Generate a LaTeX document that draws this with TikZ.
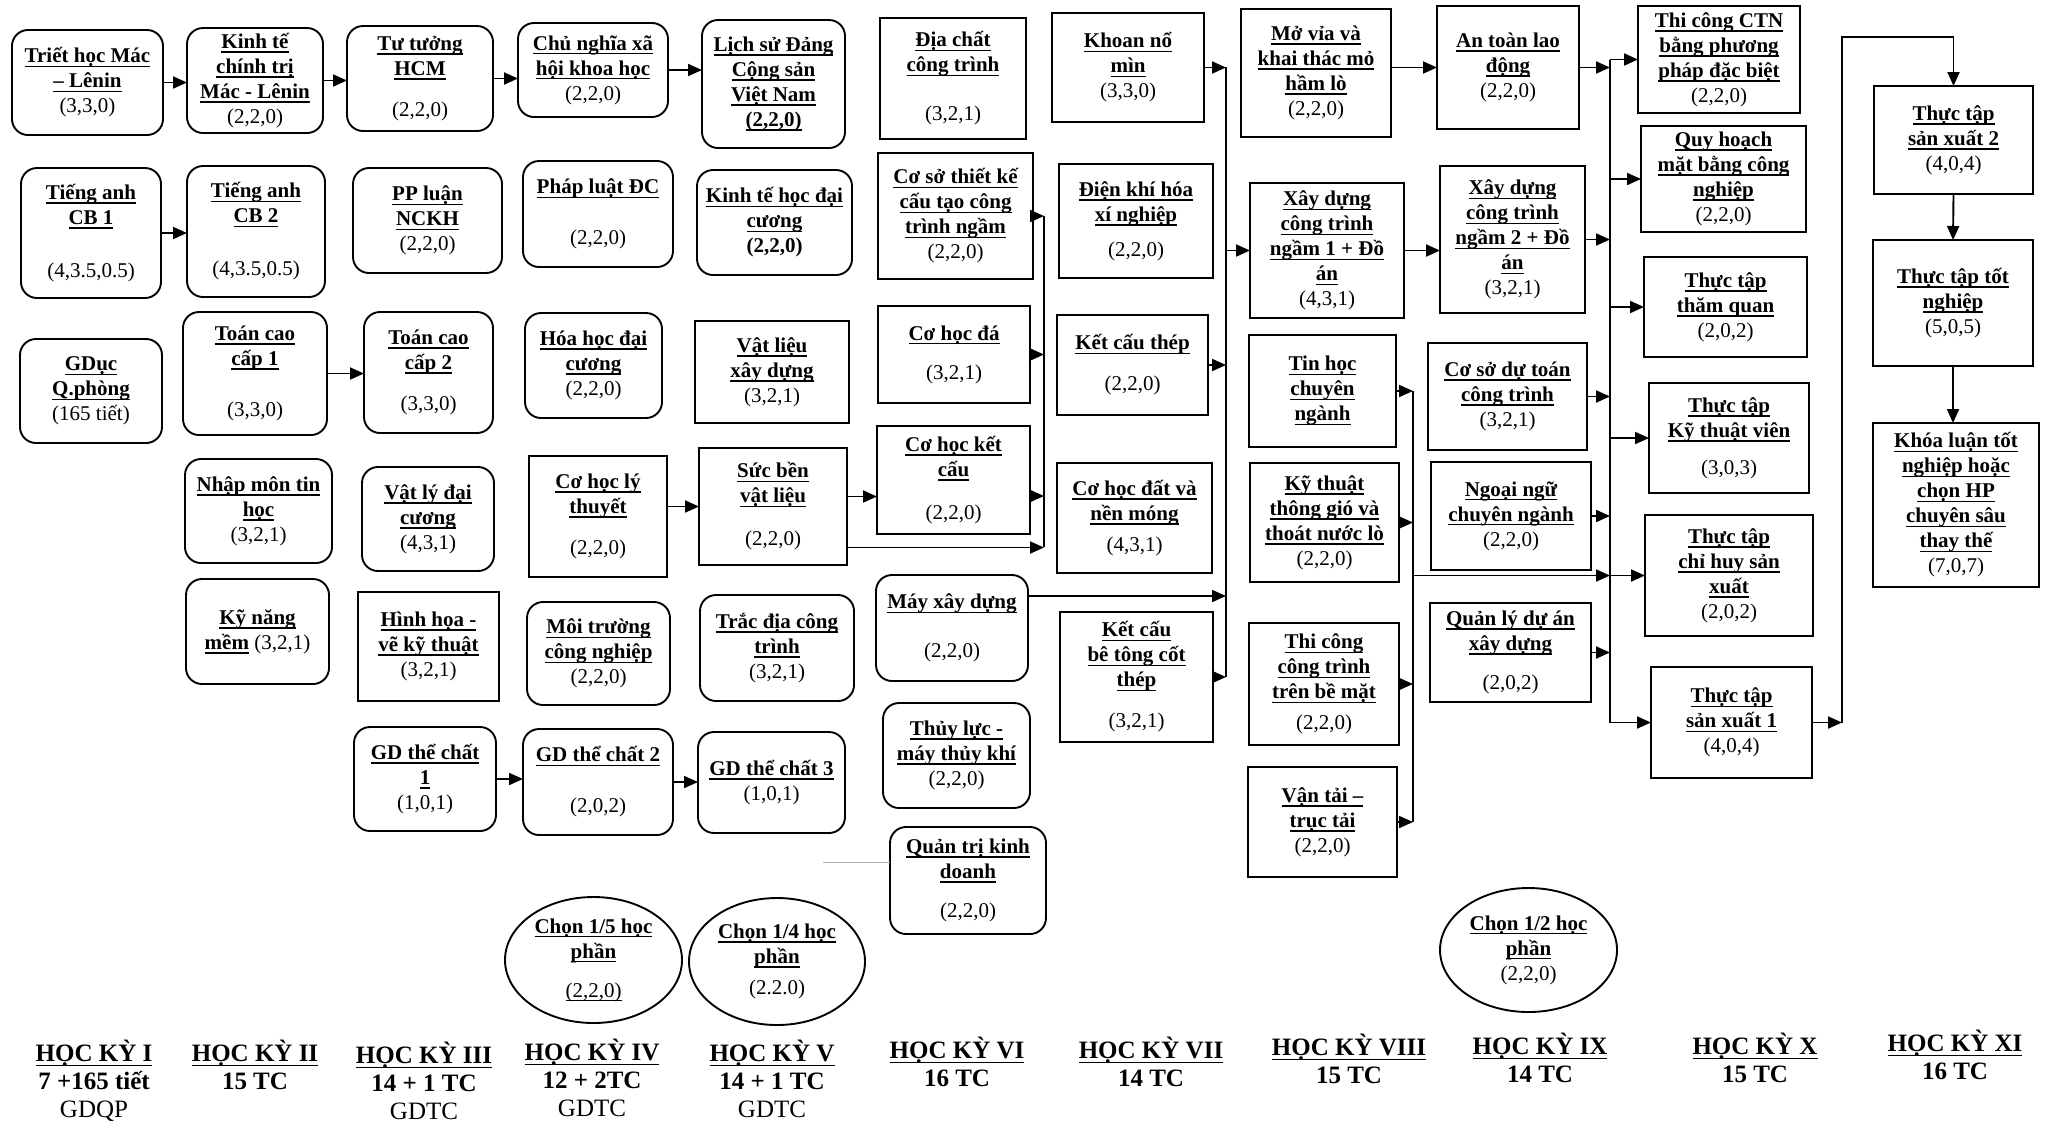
\documentclass[tikz,border=0pt]{standalone}
\usepackage{fontspec}
\setmainfont{Liberation Serif}
\usetikzlibrary{arrows.meta,shapes.geometric}
\newcommand\myul[1]{\leavevmode\setbox0\hbox{#1}\rlap{\rule[-2.2pt]{\wd0}{0.75pt}}\box0}
\newcommand\ttl[1]{\textbf{\myul{#1}}}
\newcommand\bxfont{\fontsize{10.5}{12.5}\selectfont}
\newcommand\semfont{\fontsize{12.5}{14}\selectfont}
\newcommand\bx[7]{%
  \pgfmathsetmacro\bxcx{(#3+#5)/2}%
  \pgfmathsetmacro\bxcy{(#4+#6)/2}%
  \pgfmathsetmacro\bxw{(#5-#3)/2}%
  \pgfmathsetmacro\bxh{(#6-#4)/2}%
  \node[#1, minimum width=\bxw pt, minimum height=\bxh pt] (#2) at (\bxcx,\bxcy) {#7};}
\tikzset{
  boxbase/.style={draw, line width=0.95pt, inner sep=1pt, outer sep=0pt, align=center, font=\bxfont},
  rb/.style={boxbase, rounded corners=8pt},
  sb/.style={boxbase},
  el/.style={boxbase, ellipse, inner sep=0pt},
  arr/.style={line width=0.95pt, -{Triangle[length=7pt,width=6pt]}},
  ln/.style={line width=0.95pt},
  sem/.style={anchor=north, align=center, font=\semfont, inner sep=0pt},
}
\begin{document}
\begin{tikzpicture}[x=0.5pt,y=-0.5pt]
\fill[white] (0,0) rectangle (2048,1126);
\useasboundingbox (0,0) rectangle (2048,1126);

% Column I
\bx{rb}{triet}{12}{30}{163}{135}{\ttl{Triết học Mác}\\\ttl{– Lênin}\\(3,3,0)}
\bx{rb}{tacb1}{21}{168}{161}{298}{\ttl{Tiếng anh}\\\ttl{CB 1}\\[14pt](4,3.5,0.5)}
\bx{rb}{gduc}{20}{339}{162}{443}{\ttl{GDục}\\\ttl{Q.phòng}\\(165 tiết)}
% Column II
\bx{rb}{kinhte}{187}{28}{323}{133}{\ttl{Kinh tế}\\\ttl{chính trị}\\\ttl{Mác - Lênin}\\(2,2,0)}
\bx{rb}{tacb2}{187}{166}{325}{297}{\ttl{Tiếng anh}\\\ttl{CB 2}\\[14pt](4,3.5,0.5)}
\bx{rb}{toan1}{183}{312}{327}{435}{\ttl{Toán cao}\\\ttl{cấp 1}\\[13pt](3,3,0)}
\bx{rb}{nhapmon}{185}{459}{332}{563}{\ttl{Nhập môn tin}\\\ttl{học}\\(3,2,1)}
\bx{rb}{kynang}{186}{579}{329}{684}{\ttl{Kỹ năng}\\\ttl{mềm} (3,2,1)}
% Column III
\bx{rb}{tutuong}{347}{26}{493}{131}{\ttl{Tư tưởng}\\\ttl{HCM}\\[8pt](2,2,0)}
\bx{rb}{ppl}{353}{168}{502}{273}{\ttl{PP luận}\\\ttl{NCKH}\\(2,2,0)}
\bx{rb}{toan2}{364}{312}{493}{433}{\ttl{Toán cao}\\\ttl{cấp 2}\\[8pt](3,3,0)}
\bx{rb}{vatly}{362}{467}{494}{571}{\ttl{Vật lý đại}\\\ttl{cương}\\(4,3,1)}
\bx{sb}{hinhhoa}{358}{592}{499}{701}{\ttl{Hình họa -}\\\ttl{vẽ kỹ thuật}\\(3,2,1)}
\bx{rb}{gd1}{354}{727}{496}{831}{\ttl{GD thể chất}\\\ttl{1}\\(1,0,1)}
% Column IV
\bx{rb}{cnxh}{518}{23}{668}{117}{\ttl{Chủ nghĩa xã}\\\ttl{hội khoa học}\\(2,2,0)}
\bx{rb}{phapluat}{523}{161}{673}{267}{\ttl{Pháp luật ĐC}\\[13pt](2,2,0)}
\bx{rb}{hoahoc}{525}{313}{662}{418}{\ttl{Hóa học đại}\\\ttl{cương}\\(2,2,0)}
\bx{sb}{chlt}{529}{456}{667}{577}{\ttl{Cơ học lý}\\\ttl{thuyết}\\[8pt](2,2,0)}
\bx{rb}{moitruong}{527}{602}{670}{705}{\ttl{Môi trường}\\\ttl{công nghiệp}\\(2,2,0)}
\bx{rb}{gd2}{523}{729}{673}{835}{\ttl{GD thể chất 2}\\[13pt](2,0,2)}
\bx{el}{chon15}{505}{897}{682}{1023}{\ttl{Chọn 1/5 học}\\\ttl{phần}\\[7pt]\myul{(2,2,0)}}
% Column V
\bx{rb}{lichsu}{702}{20}{845}{148}{\ttl{Lịch sử Đảng}\\\ttl{Cộng sản}\\\ttl{Việt Nam}\\\ttl{(2,2,0)}}
\bx{rb}{kthdc}{697}{170}{852}{275}{\ttl{Kinh tế học đại}\\\ttl{cương}\\\textbf{(2,2,0)}}
\bx{sb}{vatlieu}{695}{321}{849}{423}{\ttl{Vật liệu}\\\ttl{xây dựng}\\(3,2,1)}
\bx{sb}{sucben}{699}{448}{847}{565}{\ttl{Sức bền}\\\ttl{vật liệu}\\[9pt](2,2,0)}
\bx{rb}{tracdia}{700}{595}{854}{701}{\ttl{Trắc địa công}\\\ttl{trình}\\(3,2,1)}
\bx{rb}{gd3}{698}{732}{845}{833}{\ttl{GD thể chất 3}\\(1,0,1)}
\bx{el}{chon14}{689}{898}{865}{1025}{\ttl{Chọn 1/4 học}\\\ttl{phần}\\[3pt](2.2.0)}
% Column VI
\bx{sb}{diachat}{880}{18}{1026}{139}{\ttl{Địa chất}\\\ttl{công trình}\\[12pt](3,2,1)}
\bx{sb}{csotk}{878}{153}{1033}{279}{\ttl{Cơ sở thiết kế}\\\ttl{cấu tạo công}\\\ttl{trình ngầm}\\(2,2,0)}
\bx{sb}{cohocda}{878}{306}{1030}{403}{\ttl{Cơ học đá}\\[7pt](3,2,1)}
\bx{sb}{chkc}{877}{426}{1030}{534}{\ttl{Cơ học kết}\\\ttl{cấu}\\[9pt](2,2,0)}
\bx{rb}{mayxd}{876}{575}{1028}{681}{\ttl{Máy xây dựng}\\[12pt](2,2,0)}
\bx{rb}{thuyluc}{883}{703}{1030}{808}{\ttl{Thủy lực -}\\\ttl{máy thủy khí}\\(2,2,0)}
\bx{rb}{qtkd}{890}{827}{1046}{934}{\ttl{Quản trị kinh}\\\ttl{doanh}\\[7pt](2,2,0)}
% Column VII
\bx{sb}{khoan}{1052}{13}{1204}{122}{\ttl{Khoan nổ}\\\ttl{mìn}\\(3,3,0)}
\bx{sb}{dienkhi}{1059}{164}{1213}{278}{\ttl{Điện khí hóa}\\\ttl{xí nghiệp}\\[5pt](2,2,0)}
\bx{sb}{kct}{1057}{315}{1208}{415}{\ttl{Kết cấu thép}\\[8pt](2,2,0)}
\bx{sb}{chdat}{1057}{463}{1212}{573}{\ttl{Cơ học đất và}\\\ttl{nền móng}\\[3pt](4,3,1)}
\bx{sb}{btct}{1060}{612}{1213}{742}{\ttl{Kết cấu}\\\ttl{bê tông cốt}\\\ttl{thép}\\[8pt](3,2,1)}
% Column VIII
\bx{sb}{movia}{1241}{9}{1391}{137}{\ttl{Mở vỉa và}\\\ttl{khai thác mỏ}\\\ttl{hầm lò}\\(2,2,0)}
\bx{sb}{xd1}{1250}{183}{1404}{318}{\ttl{Xây dựng}\\\ttl{công trình}\\\ttl{ngầm 1 + Đồ}\\\ttl{án}\\(4,3,1)}
\bx{sb}{tinhoc}{1249}{335}{1396}{447}{\ttl{Tin học}\\\ttl{chuyên}\\\ttl{ngành}}
\bx{sb}{ktgio}{1250}{463}{1399}{582}{\ttl{Kỹ thuật}\\\ttl{thông gió và}\\\ttl{thoát nước lò}\\(2,2,0)}
\bx{sb}{tcbm}{1249}{623}{1399}{745}{\ttl{Thi công}\\\ttl{công trình}\\\ttl{trên bề mặt}\\[3pt](2,2,0)}
\bx{sb}{vantai}{1248}{767}{1397}{877}{\ttl{Vận tải –}\\\ttl{trục tải}\\(2,2,0)}
% Column IX
\bx{sb}{antoan}{1437}{6}{1579}{129}{\ttl{An toàn lao}\\\ttl{động}\\(2,2,0)}
\bx{sb}{xd2}{1440}{166}{1585}{313}{\ttl{Xây dựng}\\\ttl{công trình}\\\ttl{ngầm 2 + Đồ}\\\ttl{án}\\(3,2,1)}
\bx{sb}{csdt}{1428}{343}{1587}{450}{\ttl{Cơ sở dự toán}\\\ttl{công trình}\\(3,2,1)}
\bx{sb}{ngoaingu}{1431}{462}{1591}{570}{\ttl{Ngoại ngữ}\\\ttl{chuyên ngành}\\(2,2,0)}
\bx{sb}{qlda}{1430}{603}{1591}{702}{\ttl{Quản lý dự án}\\\ttl{xây dựng}\\[7pt](2,0,2)}
\bx{el}{chon12}{1440}{888}{1617}{1012}{\ttl{Chọn 1/2 học}\\\ttl{phần}\\(2,2,0)}
% Column X
\bx{sb}{tcctn}{1638}{6}{1800}{113}{\ttl{Thi công CTN}\\\ttl{bằng phương}\\\ttl{pháp đặc biệt}\\(2,2,0)}
\bx{sb}{quyhoach}{1641}{126}{1806}{232}{\ttl{Quy hoạch}\\\ttl{mặt bằng công}\\\ttl{nghiệp}\\(2,2,0)}
\bx{sb}{thamquan}{1644}{257}{1807}{357}{\ttl{Thực tập}\\\ttl{thăm quan}\\(2,0,2)}
\bx{sb}{ktv}{1649}{383}{1809}{493}{\ttl{Thực tập}\\\ttl{Kỹ thuật viên}\\[6pt](3,0,3)}
\bx{sb}{chihuy}{1645}{515}{1813}{636}{\ttl{Thực tập}\\\ttl{chỉ huy sản}\\\ttl{xuất}\\(2,0,2)}
\bx{sb}{sx1}{1651}{667}{1812}{778}{\ttl{Thực tập}\\\ttl{sản xuất 1}\\(4,0,4)}
% Column XI
\bx{sb}{sx2}{1874}{86}{2033}{194}{\ttl{Thực tập}\\\ttl{sản xuất 2}\\(4,0,4)}
\bx{sb}{tttn}{1873}{240}{2033}{366}{\ttl{Thực tập tốt}\\\ttl{nghiệp}\\(5,0,5)}
\bx{sb}{khoaluan}{1873}{423}{2039}{587}{\ttl{Khóa luận tốt}\\\ttl{nghiệp hoặc}\\\ttl{chọn HP}\\\ttl{chuyên sâu}\\\ttl{thay thế}\\(7,0,7)}

% Semester labels
\node[sem] (sem1) at (94,1040) {\ttl{HỌC KỲ I}\\\textbf{7 +165 tiết}\\GDQP};
\node[sem] (sem2) at (255,1040) {\ttl{HỌC KỲ II}\\\textbf{15 TC}};
\node[sem] (sem3) at (424,1042) {\ttl{HỌC KỲ III}\\\textbf{14 + 1 TC}\\GDTC};
\node[sem] (sem4) at (592,1039) {\ttl{HỌC KỲ IV}\\\textbf{12 + 2TC}\\GDTC};
\node[sem] (sem5) at (772,1040) {\ttl{HỌC KỲ V}\\\textbf{14 + 1 TC}\\GDTC};
\node[sem] (sem6) at (957,1037) {\ttl{HỌC KỲ VI}\\\textbf{16 TC}};
\node[sem] (sem7) at (1151,1037) {\ttl{HỌC KỲ VII}\\\textbf{14 TC}};
\node[sem] (sem8) at (1349,1034) {\ttl{HỌC KỲ VIII}\\\textbf{15 TC}};
\node[sem] (sem9) at (1540,1033) {\ttl{HỌC KỲ IX}\\\textbf{14 TC}};
\node[sem] (sem10) at (1755,1033) {\ttl{HỌC KỲ X}\\\textbf{15 TC}};
\node[sem] (sem11) at (1955,1030) {\ttl{HỌC KỲ XI}\\\textbf{16 TC}};

% Simple chains
\draw[arr] (triet.east) -- (triet.east -| kinhte.west);
\draw[arr] (kinhte.east) -- (kinhte.east -| tutuong.west);
\draw[arr] (tutuong.east) -- (tutuong.east -| cnxh.west);
\draw[arr] (cnxh.east) -- (cnxh.east -| lichsu.west);
\draw[arr] (tacb1.east) -- (tacb1.east -| tacb2.west);
\draw[arr] (toan1.east) -- (toan1.east -| toan2.west);
\draw[arr] (sucben.west -| chlt.east) -- (sucben.west);
\draw[arr] ([yshift=5pt]sucben.east) -- ([yshift=5pt]sucben.east -| chkc.west);
\draw[arr] (gd1.east) -- (gd1.east -| gd2.west);
\draw[arr] (gd2.east) -- (gd2.east -| gd3.west);
\draw[arr] (antoan.west -| movia.east) -- (antoan.west);
\draw[arr] (xd1.east) -- (xd1.east -| xd2.west);

% faint line
\coordinate (gl) at (823,862);
\draw[gray!60, line width=0.5pt] (gl) -- (gl -| qtkd.west);

% Bus 0
\coordinate (b0t) at (1044,216);
\coordinate (b0b) at (1044,547);
\draw[ln] (b0t) -- (b0b);
\draw[arr] (csotk.east) -- (csotk.east -| b0t);
\draw[arr] (cohocda.east) -- (cohocda.east -| b0t);
\draw[arr] ([yshift=-8pt]chkc.east) -- ([yshift=-8pt]chkc.east -| b0t);
\draw[arr] ([yshift=-20.5pt]sucben.east) -- ([yshift=-20.5pt]sucben.east -| b0t);

% Bus 1
\coordinate (b1t) at (1226,67);
\coordinate (b1b) at (1226,677);
\draw[ln] (b1t) -- (b1b);
\draw[arr] (khoan.east) -- (khoan.east -| b1t);
\draw[arr] (kct.east) -- (kct.east -| b1t);
\draw[arr] ([yshift=16pt]mayxd.east) -- ([yshift=16pt]mayxd.east -| b1t);
\draw[arr] (btct.east) -- (btct.east -| b1t);
\draw[arr] (xd1.west -| b1t) -- (xd1.west);

% Bus 2
\coordinate (b2t) at (1413,391);
\coordinate (b2b) at (1413,822);
\draw[ln] (b2t) -- (b2b);
\draw[arr] (tinhoc.east) -- (tinhoc.east -| b2t);
\draw[arr] (ktgio.east) -- (ktgio.east -| b2t);
\draw[arr] (tcbm.east) -- (tcbm.east -| b2t);
\draw[arr] (vantai.east) -- (vantai.east -| b2t);

% Bus 3
\coordinate (b3t) at (1610,60);
\draw[arr] (b3t) |- (sx1.west);
\draw[arr] (antoan.east) -- (antoan.east -| b3t);
\draw[arr] (xd2.east) -- (xd2.east -| b3t);
\draw[arr] (csdt.east) -- (csdt.east -| b3t);
\draw[arr] (ngoaingu.east) -- (ngoaingu.east -| b3t);
\draw[arr] (qlda.east) -- (qlda.east -| b3t);
\draw[arr] (chihuy.west -| b2t) -- (chihuy.west -| b3t);
\draw[arr] (tcctn.west -| b3t) -- (tcctn.west);
\draw[arr] (quyhoach.west -| b3t) -- (quyhoach.west);
\draw[arr] (thamquan.west -| b3t) -- (thamquan.west);
\draw[arr] (ktv.west -| b3t) -- (ktv.west);
\draw[arr] (chihuy.west -| b3t) -- (chihuy.west);

% Bus 4
\coordinate (b4) at (1842,37);
\draw[arr] (sx1.east) -- (sx1.east -| b4);
\draw[arr] (sx1.east -| b4) -- (b4) -| (sx2.north);
\draw[arr] (sx2.south) -- (tttn.north);
\draw[arr] (tttn.south) -- (tttn.south |- khoaluan.north);
\end{tikzpicture}
\end{document}
